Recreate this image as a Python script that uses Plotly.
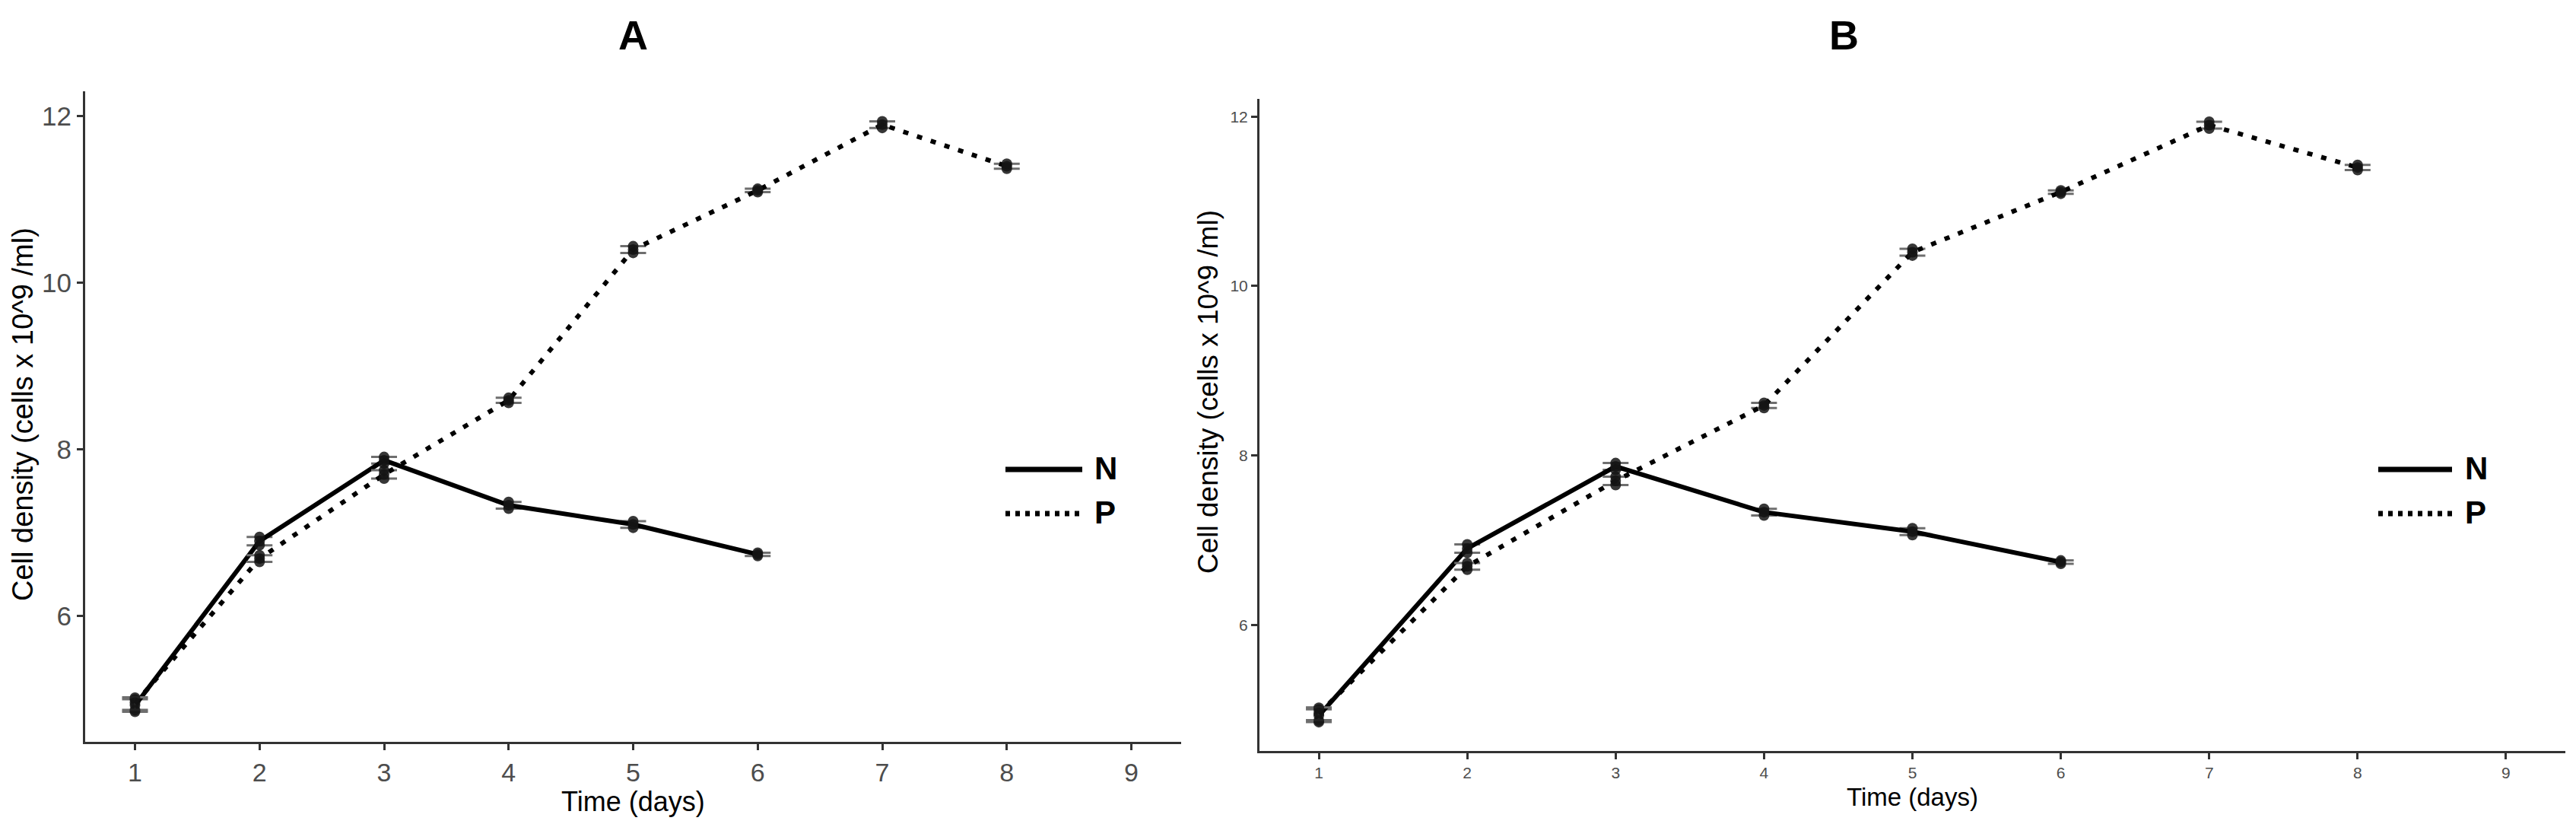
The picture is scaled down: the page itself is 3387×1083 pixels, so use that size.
import plotly.graph_objects as go
import numpy as np

W, H = 3387, 1083

days_N = [1, 2, 3, 4, 5, 6]
days_P = [1, 2, 3, 4, 5, 6, 7, 8]

# replicate cell densities (cells x 10^9 /ml)
N_reps = [
    [4.85, 4.93, 5.00],
    [6.85, 6.90, 6.95],
    [7.83, 7.87, 7.91],
    [7.29, 7.33, 7.37],
    [7.06, 7.10, 7.14],
    [6.72, 6.74, 6.76],
]
P_reps = [
    [4.87, 4.96, 5.02],
    [6.65, 6.69, 6.73],
    [7.65, 7.70, 7.75],
    [8.56, 8.59, 8.62],
    [10.36, 10.40, 10.44],
    [11.09, 11.11, 11.13],
    [11.86, 11.90, 11.94],
    [11.37, 11.40, 11.43],
]

x_ticks = [1, 2, 3, 4, 5, 6, 7, 8, 9]
y_ticks = [6, 8, 10, 12]
x_range = [0.6, 9.4]
y_range_A = [4.49, 12.30]
y_range_B = [4.51, 12.21]

panel_titles = ["A", "B"]
x_title = "Time (days)"
y_title = "Cell density (cells x 10^9 /ml)"
series_names = ["N", "P"]

FONT = "Liberation Sans, Arial, sans-serif"


def px_x(v):
    return v / W


def px_y(v):
    return 1 - v / H


fig = go.Figure()

series = [
    (series_names[0], days_N, N_reps, dict(color="black", width=6, dash="solid")),
    (series_names[1], days_P, P_reps, dict(color="black", width=6, dash="7px,12px")),
]

for ax in ["", "2"]:
    xa, ya = "x" + ax, "y" + ax
    for name, days, reps, line in series:
        reps_arr = np.array(reps)
        means = reps_arr.mean(axis=1)
        sds = reps_arr.std(axis=1, ddof=1)
        # error bars
        fig.add_trace(go.Scatter(
            x=days, y=means, mode="markers", xaxis=xa, yaxis=ya,
            marker=dict(size=2, color="rgba(0,0,0,0)"),
            error_y=dict(type="data", array=sds, color="#6e6e6e", thickness=3, width=17),
            showlegend=False, hoverinfo="skip"))
        # mean line
        fig.add_trace(go.Scatter(
            x=days, y=means, mode="lines", xaxis=xa, yaxis=ya,
            line=line, name=name, showlegend=False))
        # replicate points
        xs = [d for d, r in zip(days, reps) for _ in r]
        ys = [v for r in reps for v in r]
        fig.add_trace(go.Scatter(
            x=xs, y=ys, mode="markers", xaxis=xa, yaxis=ya,
            marker=dict(size=14, color="rgba(20,20,20,0.85)"),
            showlegend=False, name=name))

axis_common = dict(
    showgrid=False, zeroline=False, showline=True, linecolor="#333333", linewidth=3,
    ticks="outside", ticklen=8, tickwidth=3, tickcolor="#333333", mirror=False,
)

fig.update_layout(
    width=W, height=H,
    margin=dict(l=0, r=0, t=0, b=0),
    paper_bgcolor="white", plot_bgcolor="white",
    font=dict(family=FONT, color="black"),
    showlegend=False,
    xaxis=dict(domain=[px_x(112), px_x(1553)], range=x_range, tickvals=x_ticks,
               tickfont=dict(size=34, color="#4d4d4d"), anchor="y", **axis_common),
    yaxis=dict(domain=[px_y(975), px_y(120)], range=y_range_A, tickvals=y_ticks,
               tickfont=dict(size=35, color="#4d4d4d"), anchor="x", **axis_common),
    xaxis2=dict(domain=[px_x(1656), px_x(3373)], range=x_range, tickvals=x_ticks,
                tickfont=dict(size=21, color="#4d4d4d"), anchor="y2", **axis_common),
    yaxis2=dict(domain=[px_y(987), px_y(130)], range=y_range_B, tickvals=y_ticks,
                tickfont=dict(size=21, color="#4d4d4d"), anchor="x2", **axis_common),
)

ann = []
# panel titles
for t, cx, cy in [(panel_titles[0], 832, 46), (panel_titles[1], 2424, 46)]:
    ann.append(dict(text="<b>%s</b>" % t, x=px_x(cx), y=px_y(cy), xref="paper", yref="paper",
                    showarrow=False, font=dict(size=54, family=FONT, color="black"),
                    xanchor="center", yanchor="middle"))
# axis titles
for cx, cy, size in [(832, 1053, 36), (2514, 1047, 33)]:
    ann.append(dict(text=x_title, x=px_x(cx), y=px_y(cy), xref="paper", yref="paper",
                    showarrow=False, font=dict(size=size, family=FONT, color="black"),
                    xanchor="center", yanchor="middle"))
for cx, cy, size in [(30, 545, 38), (1588, 515, 37)]:
    ann.append(dict(text=y_title, x=px_x(cx), y=px_y(cy), xref="paper", yref="paper",
                    showarrow=False, textangle=-90, font=dict(size=size, family=FONT, color="black"),
                    xanchor="center", yanchor="middle"))

shapes = []
# legends (one per panel)
for x0, x1, xt in [(1322, 1423, 1437), (3127, 3224, 3239)]:
    for (name, _, _, line), ly in zip(series, [617, 675]):
        shapes.append(dict(type="line", xref="paper", yref="paper",
                           x0=px_x(x0), x1=px_x(x1), y0=px_y(ly), y1=px_y(ly),
                           line=dict(color="black", width=7,
                                     dash="solid" if line["dash"] == "solid" else "6px,7px")))
        ann.append(dict(text="<b>%s</b>" % name, x=px_x(xt), y=px_y(ly - 2), xref="paper", yref="paper",
                        showarrow=False, font=dict(size=42, family=FONT, color="black"),
                        xanchor="left", yanchor="middle"))

fig.update_layout(annotations=ann, shapes=shapes)

fig.write_html("out.html")
